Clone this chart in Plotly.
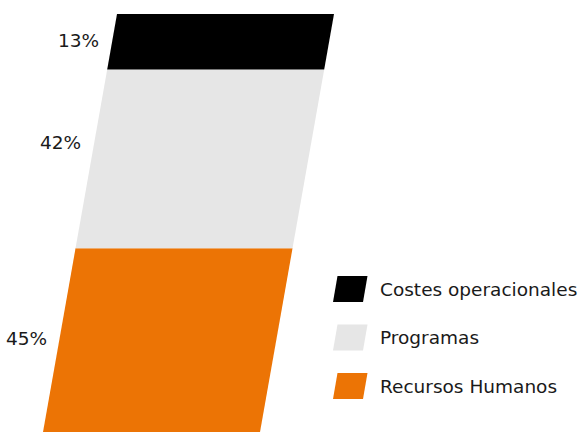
import plotly.graph_objects as go

# ---- data ----
categories = ["Recursos Humanos", "Programas", "Costes operacionales"]
values = [45, 42, 13]
labels = ["45%", "42%", "13%"]
colors = ["#EC7405", "#E6E6E6", "#000000"]

# ---- style / geometry ----
W, H = 585, 432
px_per_unit = 4.26          # vertical pixels per percentage point
y_bottom_px = 440           # pixel row of value 0 (slightly below the canvas)
slant = 0.177               # horizontal px per vertical px
x0_left = 41.6              # left edge at value 0 (px)
bar_w = 217                 # bar width in px
label_frac = [0.53, 0.59, 0.53]
label_gap = 11
font_fam = "DejaVu Sans, sans-serif"
font_size = 18.5
txt_col = "#1a1a1a"

y_min = (y_bottom_px - H) / px_per_unit
y_max = y_bottom_px / px_per_unit
unit_dx = px_per_unit * slant


def left_x(v):
    return x0_left + v * unit_dx


fig = go.Figure()
base = 0
for cat, v, lab, col, fr in zip(categories, values, labels, colors, label_frac):
    y0, y1 = base, base + v
    xs = [left_x(y0), left_x(y0) + bar_w, left_x(y1) + bar_w, left_x(y1), left_x(y0)]
    ys = [y0, y0, y1, y1, y0]
    fig.add_trace(go.Scatter(x=xs, y=ys, fill="toself", mode="lines",
                             line=dict(width=0, color=col), fillcolor=col,
                             name=cat, showlegend=False, hoverinfo="name"))
    ym = y0 + v * fr
    fig.add_annotation(x=left_x(ym) - label_gap, y=ym, text=lab, showarrow=False,
                       xanchor="right", yanchor="middle",
                       font=dict(family=font_fam, size=font_size, color=txt_col))
    base = y1

# ---- manual legend (top entry = last category) ----
leg_x = 333           # px left of marker bottom
leg_top = 289         # px centre of first row
leg_step = 48.5
mk_w, mk_h, mk_sl = 30, 26, 4.5
for i, (cat, col) in enumerate(zip(categories[::-1], colors[::-1])):
    cy = leg_top + i * leg_step
    yt, yb = cy - mk_h / 2, cy + mk_h / 2
    path = (f"M {leg_x/W},{1-yb/H} L {(leg_x+mk_w)/W},{1-yb/H} "
            f"L {(leg_x+mk_w+mk_sl)/W},{1-yt/H} L {(leg_x+mk_sl)/W},{1-yt/H} Z")
    fig.add_shape(type="path", path=path, xref="paper", yref="paper",
                  fillcolor=col, line=dict(width=0))
    fig.add_annotation(x=378 / W, y=1 - cy / H, xref="paper", yref="paper",
                       text=cat, showarrow=False, xanchor="left", yanchor="middle",
                       font=dict(family=font_fam, size=font_size, color=txt_col))

fig.update_layout(
    width=W, height=H, margin=dict(l=0, r=0, t=0, b=0),
    paper_bgcolor="white", plot_bgcolor="white",
    xaxis=dict(range=[0, W], visible=False, fixedrange=True),
    yaxis=dict(range=[y_min, y_max], visible=False, fixedrange=True),
    showlegend=False,
)
fig.write_html("out.html", config={"displayModeBar": False},
               post_script="document.body.style.margin='0';document.body.style.overflow='hidden';")
